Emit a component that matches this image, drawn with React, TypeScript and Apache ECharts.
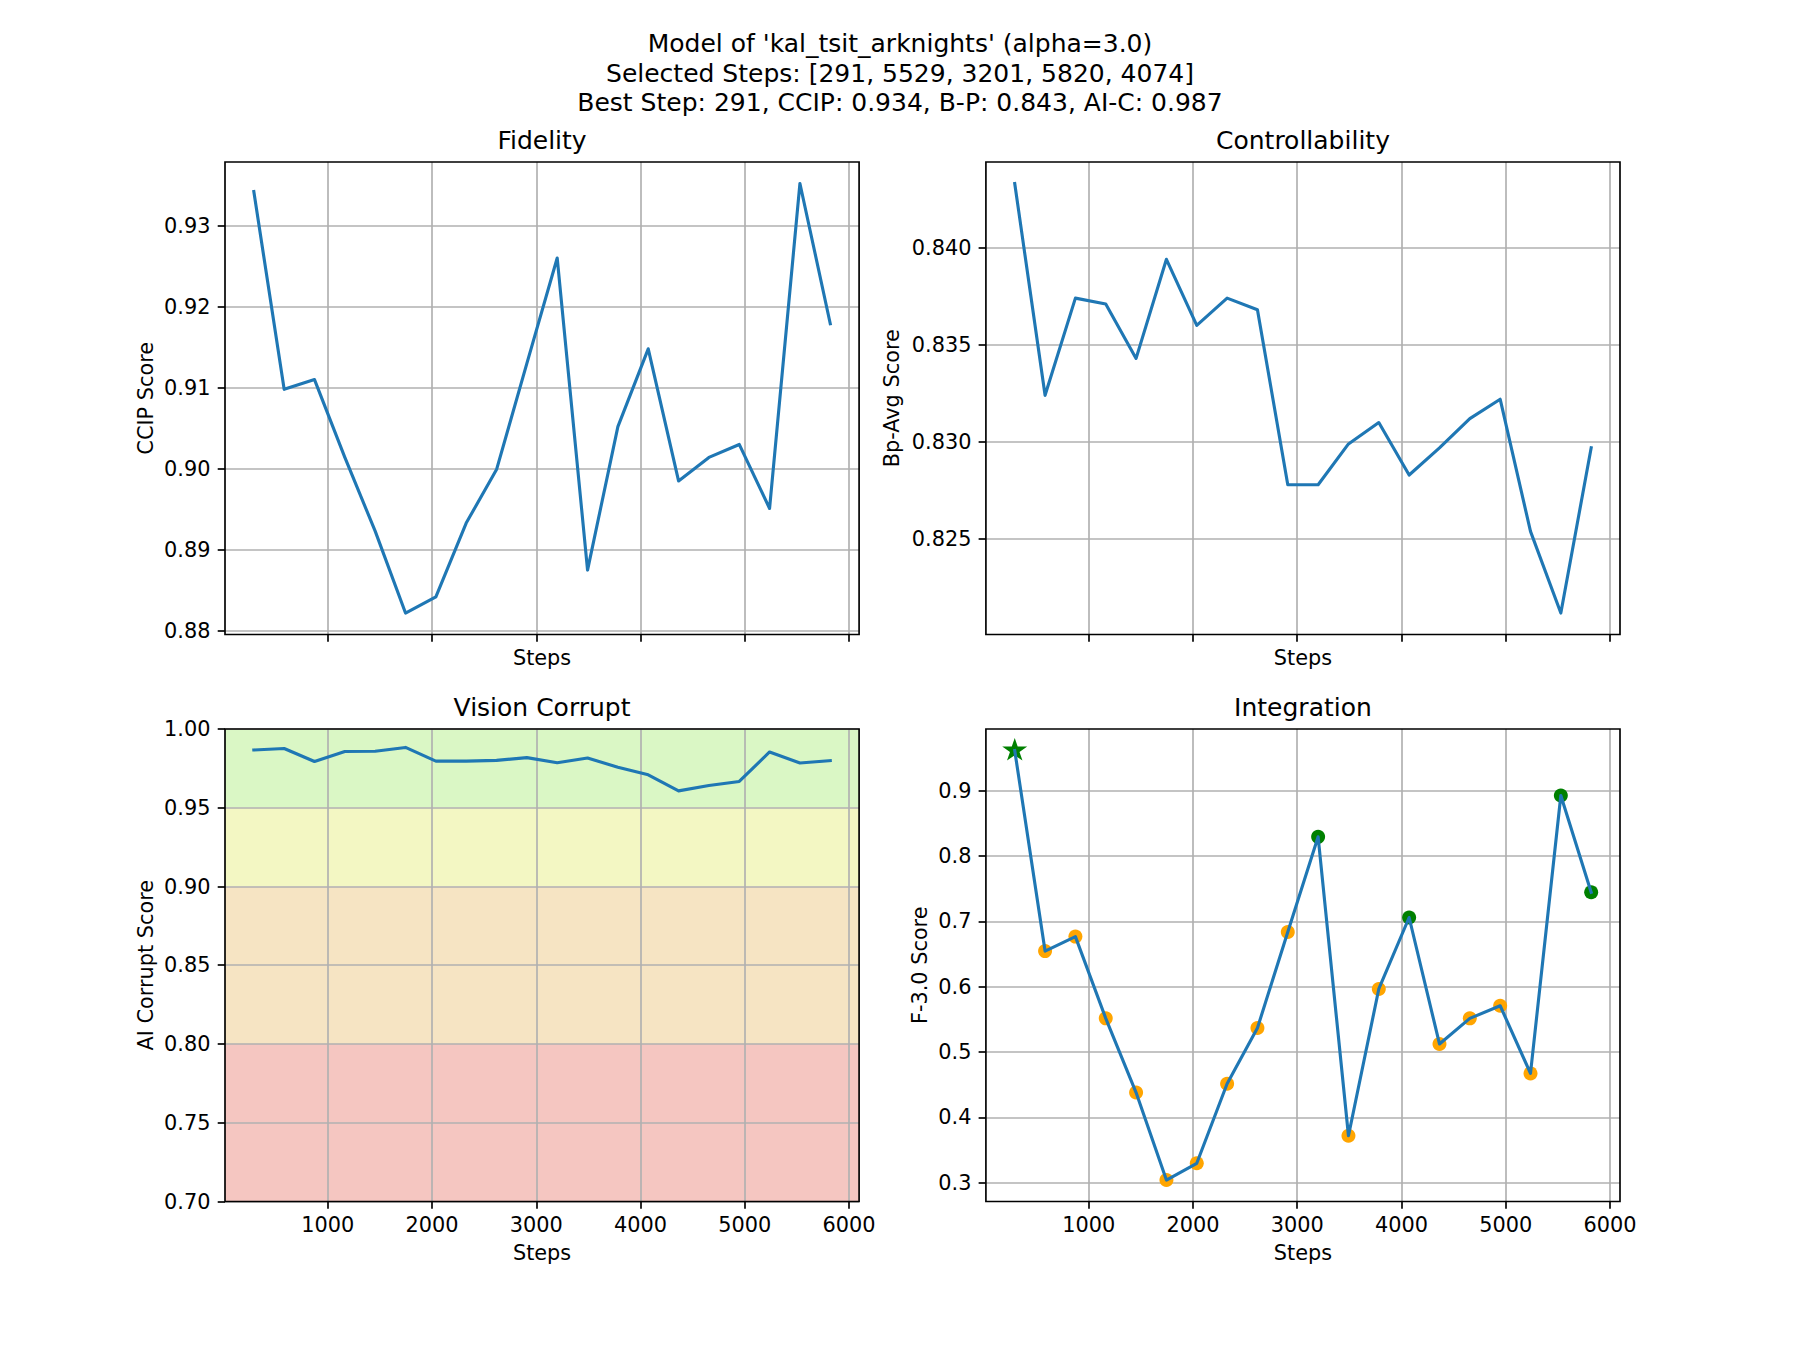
import React, { useEffect, useRef } from "react";
import * as echarts from "echarts";

// ---------------- data ----------------
const steps = [291, 582, 873, 1164, 1455, 1746, 2037, 2328, 2619, 2910, 3201, 3492, 3783, 4074, 4365, 4656, 4947, 5238, 5529, 5820];
const ccipScores = [0.9342, 0.9098, 0.911, 0.9014, 0.8923, 0.8822, 0.8842, 0.8933, 0.8999, 0.913, 0.926, 0.8875, 0.9052, 0.9148, 0.8985, 0.9014, 0.903, 0.8951, 0.9352, 0.9179];
const bpAvgScores = [0.8433, 0.8324, 0.8374, 0.8371, 0.8343, 0.8394, 0.836, 0.8374, 0.8368, 0.8278, 0.8278, 0.8299, 0.831, 0.8283, 0.8297, 0.8312, 0.8322, 0.8254, 0.8212, 0.8297];
const aiCorruptScores = [0.9867, 0.9876, 0.9794, 0.9857, 0.9859, 0.9883, 0.9796, 0.9796, 0.9801, 0.9818, 0.9786, 0.9816, 0.9757, 0.9709, 0.9607, 0.9641, 0.9667, 0.9854, 0.9784, 0.9799];
const f3Scores = [0.9613, 0.6544, 0.6766, 0.5515, 0.438, 0.3042, 0.3298, 0.4515, 0.5368, 0.6836, 0.8292, 0.3719, 0.5965, 0.7058, 0.5123, 0.5515, 0.5708, 0.4673, 0.8924, 0.7444];
const selectedSteps = [291, 5529, 3201, 5820, 4074];
const bestStep = 291;

const stepTicks = [1000, 2000, 3000, 4000, 5000, 6000];
const ccipTicks = [0.88, 0.89, 0.9, 0.91, 0.92, 0.93];
const bpTicks = [0.825, 0.83, 0.835, 0.84];
const corruptTicks = [0.7, 0.75, 0.8, 0.85, 0.9, 0.95, 1.0];
const f3Ticks = [0.3, 0.4, 0.5, 0.6, 0.7, 0.8, 0.9];
const corruptRange = [0.7, 1.0];
const corruptBands = [
  [0.95, 1.0],
  [0.9, 0.95],
  [0.8, 0.9],
  [0.7, 0.8],
];

const titleLines = [
  "Model of 'kal_tsit_arknights' (alpha=3.0)",
  "Selected Steps: [291, 5529, 3201, 5820, 4074]",
  "Best Step: 291, CCIP: 0.934, B-P: 0.843, AI-C: 0.987",
];
const panelTitles = ["Fidelity", "Controllability", "Vision Corrupt", "Integration"];
const yNames = ["CCIP Score", "Bp-Avg Score", "AI Corrupt Score", "F-3.0 Score"];

// ---------------- styles ----------------
const FONT = "DejaVu Sans";
const PT = 150 / 72;
const TICK_FS = 10 * PT;
const TITLE_FS = 12 * PT;
const BAND_COLORS = ["#DAF7C5", "#F3F7C3", "#F6E4C3", "#F5C6C1"];
const LINE_COLOR = "#1f77b4";
const GRID_COLOR = "#b0b0b0";
const STAR_PATH =
  "path://M100,0 L122.45,69.1 L195.1,69.1 L136.33,111.8 L158.78,180.9 L100,138.2 L41.22,180.9 L63.67,111.8 L4.9,69.1 L77.55,69.1 Z";

function padExtent(arr: number[]): [number, number] {
  const lo = Math.min(...arr);
  const hi = Math.max(...arr);
  const m = (hi - lo) * 0.05;
  return [lo - m, hi + m];
}

export default function App() {
  const ref = useRef<HTMLDivElement>(null);

  useEffect(() => {
    if (!ref.current) return;
    const chart = echarts.init(ref.current, null, { renderer: "svg", width: 1800, height: 1350 });

    const W = 1800;
    const gw = (0.775 * W) / 2.2; // 634.09
    const gh = (0.77 * 1350) / 2.2; // 472.5
    const lefts = [225, 225 + gw * 1.2, 225, 225 + gw * 1.2];
    const tops = [162, 162, 162 + gh * 1.2, 162 + gh * 1.2];

    const xExt = padExtent(steps);
    const yExts: [number, number][] = [
      padExtent(ccipScores),
      padExtent(bpAvgScores),
      [corruptRange[0], corruptRange[1]],
      padExtent(f3Scores),
    ];
    const yTicks = [ccipTicks, bpTicks, corruptTicks, f3Ticks];
    const yDigits = [2, 3, 2, 1];
    const yGaps = [68.8, 83, 68.8, 55.6];

    const tickLine = { color: "#000", width: 0.8 * PT };
    const splitLine = { show: true, lineStyle: { color: GRID_COLOR, width: 0.8 * PT } };
    const txt = { fontFamily: FONT, fontSize: TICK_FS, color: "#000" };

    const grid = [0, 1, 2, 3].map((i) => ({
      left: lefts[i],
      top: tops[i],
      width: gw,
      height: gh,
      show: true,
      borderColor: "#000",
      borderWidth: 0.8 * PT,
      backgroundColor: "transparent",
      z: 1,
      containLabel: false,
    }));

    const xAxis = [0, 1, 2, 3].map((i) => ({
      gridIndex: i,
      type: "value",
      min: xExt[0],
      max: xExt[1],
      name: "Steps",
      nameLocation: "middle",
      nameGap: i < 2 ? 13.4 : 40.9,
      nameTextStyle: txt,
      axisLine: { show: false },
      axisTick: { show: true, length: 3.5 * PT, lineStyle: tickLine, customValues: stepTicks },
      axisLabel: {
        show: i >= 2,
        margin: 12.8,
        ...txt,
        customValues: stepTicks,
        showMinLabel: true,
        showMaxLabel: true,
        formatter: (v: number) => String(Math.round(v)),
      },
      splitLine,
    }));

    const yAxis = [0, 1, 2, 3].map((i) => ({
      gridIndex: i,
      type: "value",
      min: yExts[i][0],
      max: yExts[i][1],
      name: yNames[i],
      nameLocation: "middle",
      nameGap: yGaps[i],
      nameRotate: 90,
      nameTextStyle: txt,
      axisLine: { show: false },
      axisTick: { show: true, length: 3.5 * PT, lineStyle: tickLine, customValues: yTicks[i] },
      axisLabel: {
        margin: 14.5,
        ...txt,
        customValues: yTicks[i],
        showMinLabel: true,
        showMaxLabel: true,
        formatter: (v: number) => v.toFixed(yDigits[i]),
      },
      splitLine,
    }));

    const lineStyle = { color: LINE_COLOR, width: 1.5 * PT, cap: "square", join: "round" };
    const mkLine = (idx: number, vals: number[], extra: any = {}) => ({
      type: "line",
      xAxisIndex: idx,
      yAxisIndex: idx,
      data: steps.map((s, k) => [s, vals[k]]),
      symbol: "none",
      showSymbol: false,
      lineStyle,
      z: 3,
      silent: true,
      ...extra,
    });

    const others: number[][] = [];
    const chosen: number[][] = [];
    const best: number[][] = [];
    steps.forEach((s, k) => {
      const p = [s, f3Scores[k]];
      if (s === bestStep) best.push(p);
      else if (selectedSteps.includes(s)) chosen.push(p);
      else others.push(p);
    });

    const series: any[] = [
      mkLine(0, ccipScores),
      mkLine(1, bpAvgScores),
      mkLine(2, aiCorruptScores, {
        markArea: {
          silent: true,
          z: -1,
          data: corruptBands.map((b, k) => [
            { yAxis: b[0], itemStyle: { color: BAND_COLORS[k], opacity: 1 } },
            { yAxis: b[1] },
          ]),
        },
      }),
      {
        type: "scatter",
        xAxisIndex: 3,
        yAxisIndex: 3,
        data: others,
        symbol: "circle",
        symbolSize: 14,
        itemStyle: { color: "#FFA500", opacity: 1 },
        z: 2,
        silent: true,
      },
      {
        type: "scatter",
        xAxisIndex: 3,
        yAxisIndex: 3,
        data: chosen,
        symbol: "circle",
        symbolSize: 14,
        itemStyle: { color: "#008000", opacity: 1 },
        z: 2,
        silent: true,
      },
      {
        type: "scatter",
        xAxisIndex: 3,
        yAxisIndex: 3,
        data: best,
        symbol: STAR_PATH,
        symbolSize: [25, 23.8],
        symbolKeepAspect: true,
        symbolOffset: [0, -1.2],
        itemStyle: { color: "#008000", opacity: 1 },
        z: 2,
        silent: true,
      },
      mkLine(3, f3Scores),
    ];

    const graphic: any[] = [];
    titleLines.forEach((t, k) => {
      graphic.push({
        type: "text",
        x: 900,
        y: 43.85 + 29.5 * k,
        silent: true,
        style: { text: t, fontFamily: FONT, fontSize: TITLE_FS, fill: "#000", align: "center", verticalAlign: "middle" },
      });
    });
    panelTitles.forEach((t, i) => {
      graphic.push({
        type: "text",
        x: lefts[i] + gw / 2,
        y: tops[i] - 6 * PT - 8.65,
        silent: true,
        style: { text: t, fontFamily: FONT, fontSize: TITLE_FS, fill: "#000", align: "center", verticalAlign: "middle" },
      });
    });

    chart.setOption({
      animation: false,
      backgroundColor: "#ffffff",
      textStyle: { fontFamily: FONT },
      grid,
      xAxis,
      yAxis,
      series,
      graphic,
    });

    return () => chart.dispose();
  }, []);

  return (
    <div
      ref={ref}
      style={{ position: "absolute", left: 0, top: 0, width: 1800, height: 1350, background: "#fff" }}
    />
  );
}
